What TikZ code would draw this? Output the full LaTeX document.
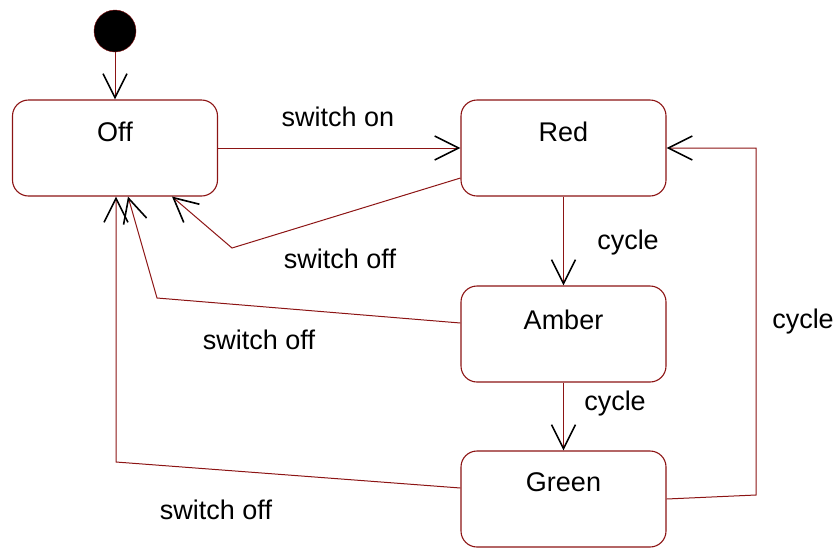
\documentclass[tikz,border=0pt]{standalone}
\usepackage{fontspec}
\setmainfont{Liberation Sans}
\usetikzlibrary{arrows.meta, positioning}
\definecolor{linered}{RGB}{140, 20, 20}

\begin{document}
\begin{tikzpicture}[
    x=1pt, y=-1pt,
    state/.style={draw=linered, line width=1.1pt, rounded corners=16pt,
      minimum width=205pt, minimum height=96pt, inner sep=0pt},
    trans/.style={-{Straight Barb[length=24pt, width=24pt, line width=1.6pt, color=black]}, linered, line width=1pt},
    lbl/.style={font=\fontsize{27}{31}\selectfont}
]
\useasboundingbox (0,0) rectangle (840,547);

% States
\node[circle, draw=linered, fill=black, minimum size=42pt, inner sep=0pt] (init) at (115,31) {};
\node[state, label={[lbl, anchor=center, yshift=-32pt]north:Off}] (off) at (115,148) {};
\node[state, label={[lbl, anchor=center, yshift=-32pt]north:Red}] (red) at (563.5,148) {};
\node[state, label={[lbl, anchor=center, yshift=-34pt]north:Amber}] (amber) at (563.5,334) {};
\node[state, label={[lbl, anchor=center, yshift=-32pt]north:Green}] (green) at (563.5,499) {};

% Bends
\coordinate (b1) at (232,248);
\coordinate (b2) at (157,298);
\coordinate (b3) at (116,462);
\coordinate (b4) at (756,495);

% Transitions
\draw[trans] (init) -- (off);
\draw[trans] (off) -- (red);
\draw[trans] ([yshift=-30pt]red.west) -- (b1) -- ([xshift=57pt]off.south);
\draw[trans] ([yshift=11pt]amber.west) -- (b2) -- ([xshift=13pt]off.south);
\draw[trans] ([yshift=11pt]green.west) -- (b3) -- ([xshift=1pt]off.south);
\draw[trans] (red.south) -- (amber.north);
\draw[trans] (amber.south) -- (green.north);
\draw[trans] (green.east) -- (b4) |- (red.east);

% Labels
\node[lbl] (lon) at (338,117) {switch on};
\node[lbl] (loff1) at (340,259) {switch off};
\node[lbl] (loff2) at (259,340) {switch off};
\node[lbl] (loff3) at (216,510) {switch off};
\node[lbl] (lc1) at (628,243) {cycle};
\node[lbl] (lc2) at (615,404) {cycle};
\node[lbl] (lc3) at (803,322) {cycle};
\end{tikzpicture}
\end{document}
